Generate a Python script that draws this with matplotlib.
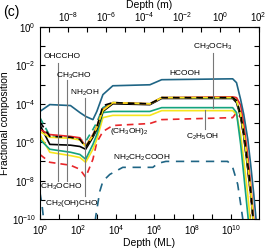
import matplotlib
matplotlib.use("Agg")
import matplotlib.pyplot as plt
import numpy as np

plt.rcParams['font.family'] = ['Liberation Sans', 'DejaVu Sans']
plt.rcParams['mathtext.fontset'] = 'custom'
plt.rcParams['mathtext.rm'] = 'Liberation Sans'
plt.rcParams['mathtext.it'] = 'Liberation Sans:italic'

# depth grid (monolayers) shared by the main species
depth_ml = [1, 3.3, 40, 124, 250, 600, 960, 2000, 6600, 5.8e5, 2.4e6,
            1.26e10, 2.0e10, 3.3e10, 4.8e10, 7.8e10, 1.1e11, 1.6e11, 2.3e11, 3.0e11]

hcooh = [4.0e-5, 9.1e-5, 8.1e-5, 3.5e-5, 2.2e-5, 1.5e-5, 4.0e-5, 3.0e-4, 8.7e-4, 9.8e-4, 1.8e-3,
         2.0e-3, 1.26e-3, 1.65e-4, 2.8e-5, 1.4e-6, 7.1e-8, 2.0e-9, 3.9e-11, 2.8e-12]
ch3och3 = [1.15e-5, 2.0e-6, 1.8e-6, 1.4e-6, 5.5e-7, 2.2e-6, 6.0e-6, 8.0e-5, 1.15e-4, 1.0e-4, 2.1e-4,
           2.1e-4, 1.5e-4, 2.8e-5, 3.2e-6, 7.1e-8, 3.5e-9, 5.0e-11, 8e-13, 6e-14]
red_solid = [4.6e-6, 2.5e-6, 2.0e-6, 1.7e-6, 6.0e-7, 2.5e-6, 6.6e-6, 5.0e-5, 1.15e-4, 1.0e-4, 2.1e-4,
             2.3e-4, 2.1e-4, 8.5e-5, 9.4e-6, 1.8e-7, 7.0e-9, 1.0e-10, 1.6e-12, 1e-13]
black_solid = [8.0e-6, 7.7e-7, 7.0e-7, 6.0e-7, 4.3e-7, 1.8e-6, 4.6e-6, 4.0e-5, 1.0e-4, 9.0e-5, 1.9e-4,
               1.9e-4, 1.15e-4, 2.0e-5, 2.0e-6, 3.9e-8, 2.0e-9, 4.0e-11, 7e-13, 5e-14]
yellow_dashed = [3.6e-6, 1.8e-6, 1.6e-6, 1.3e-6, 6.0e-7, 2.2e-6, 6.0e-6, 4.5e-5, 1.15e-4, 1.0e-4, 2.1e-4,
                 2.1e-4, 1.5e-4, 2.8e-5, 3.2e-6, 7.1e-8, 3.5e-9, 5.0e-11, 8e-13, 6e-14]
green_dashed = [1.9e-5, 2.2e-6, 1.8e-6, 1.4e-6, 1.1e-6, 4.6e-6, 1.07e-5, 6.3e-5, 1.15e-4, 1.0e-4, 2.1e-4,
                2.1e-4, 1.5e-4, 2.5e-5, 2.8e-6, 6.0e-8, 3.0e-9, 4.5e-11, 7e-13, 5e-14]
green_solid = [1.4e-6, 4.3e-7, 3.0e-7, 2.3e-7, 1.3e-7, 7.7e-7, 2.5e-6, 3.5e-5, 4.0e-5, 4.0e-5, 6.3e-5,
               6.3e-5, 3.5e-5, 7.7e-7, 2.0e-8, 1.7e-10, 4e-12, 1e-13, 1e-14, 1e-15]
c2h5oh = [2.5e-6, 3.0e-7, 2.0e-7, 1.6e-7, 9.0e-8, 4.3e-7, 1.4e-6, 1.9e-5, 2.5e-5, 2.5e-5, 4.4e-5,
          4.4e-5, 2.8e-5, 2.5e-6, 1.2e-7, 1.8e-9, 5.0e-11, 8e-13, 2e-14, 1e-15]
ch3oh2 = [2.3e-7, 9.0e-8, 6.3e-8, 3.9e-8, 1.5e-8, 1.3e-7, 9.8e-7, 3.6e-6, 7.4e-6, 9.4e-6, 1.5e-5,
          1.9e-5, 3.5e-5, 1.9e-5, 2.0e-6, 3.9e-8, 1.4e-9, 3.0e-11, 5e-13, 4e-14]

# glycine has its own depth points
gly_ml = [1, 1.3, 1.6, 3, 500, 850, 1380, 2000, 4600, 2.2e4, 8.3e5, 1.5e6, 4.0e6,
          6.9e9, 1.26e10, 2.3e10, 3.3e10, 4.4e10, 5.5e10]
gly = [2.5e-9, 5.0e-10, 8.0e-11, 1e-12, 1e-12, 1.45e-10, 2.8e-9, 9.3e-9, 2.1e-8, 4.9e-8, 4.9e-8,
       7.9e-8, 1.0e-7, 1.0e-7, 4.9e-8, 6.5e-9, 6.0e-10, 8.0e-11, 3.0e-12]

ml_m = 3.5e-10  # thickness of one monolayer in metres

teal = '#1f6585'
green = '#14a37f'
red = '#e8262a'
yellow = '#f7e51c'

fig = plt.figure(figsize=(2.66, 2.5), dpi=100)
ax = fig.add_axes([0.150, 0.124, 0.822, 0.768])

lw = 1.2
ax.plot(depth_ml, ch3oh2, color=red, lw=lw, dashes=(4, 3))
ax.plot(depth_ml, c2h5oh, color=yellow, lw=lw)
ax.plot(depth_ml, green_solid, color=green, lw=lw)
ax.plot(depth_ml, black_solid, color='black', lw=lw)
ax.plot(depth_ml, green_dashed, color=green, lw=lw, dashes=(4, 3))
ax.plot(depth_ml, red_solid, color=red, lw=lw)
ax.plot(depth_ml, yellow_dashed, color=yellow, lw=lw)
ax.plot(depth_ml, ch3och3, color='black', lw=lw, dashes=(4, 3))
ax.plot(depth_ml, hcooh, color=teal, lw=lw)
ax.plot(gly_ml, gly, color=teal, lw=lw, dashes=(5, 4))

ax.set_xscale('log')
ax.set_yscale('log')
ax.set_xlim(1, 100 / ml_m)
ax.set_ylim(1e-10, 1)

xt = [10.0 ** k for k in range(0, 12)]
ax.set_xticks(xt)
ax.set_xticklabels(['$10^{%d}$' % k if k % 2 == 0 else '' for k in range(0, 12)])
yt = [10.0 ** k for k in range(-10, 1)]
ax.set_yticks(yt)
ax.set_yticklabels(['$10^{%d}$' % k if k % 2 == 0 else '' for k in range(-10, 1)])
ax.minorticks_off()
ax.tick_params(which='both', direction='in', length=3.5, width=0.8,
               labelsize=7, right=True, top=False, pad=3)

sec = ax.secondary_xaxis('top', functions=(lambda x: x * ml_m, lambda x: x / ml_m))
mt = [10.0 ** k for k in range(-9, 3)]
sec.set_xticks(mt)
sec.set_xticklabels(['$10^{%d}$' % k if k % 2 == 0 else '' for k in range(-9, 3)])
sec.minorticks_off()
sec.tick_params(direction='in', length=3.5, width=0.8, labelsize=7, pad=2)
sec.set_xlabel('Depth (m)', fontsize=7.5, labelpad=2)

ax.set_xlabel('Depth (ML)', fontsize=7.5, labelpad=1)
ax.set_ylabel('Fractional composition', fontsize=7.5, labelpad=1)
for s in ax.spines.values():
    s.set_linewidth(0.8)

fig.text(0.01, 0.935, '(c)', fontsize=10)

# pointer lines
gray = '#777777'
ax.plot([8.8, 8.8], [1.36e-2, 9.3e-9], color=gray, lw=0.8)
ax.plot([26, 26], [1.8e-3, 9.3e-9], color=gray, lw=0.8)
ax.plot([240, 240], [2.1e-4, 1.55e-9], color=gray, lw=0.8)
ax.plot([1.15e9, 1.15e9], [4.5e-2, 6.3e-5], color=gray, lw=0.8)
ax.plot([4.4e8, 4.4e8], [4.5e-5, 4.6e-6], color=gray, lw=0.8)

fs = 6
kw = dict(fontsize=fs, ha='center', va='center')
ax.text(14, 2.8e-2, 'OHCCHO', **kw)
ax.text(60, 2.9e-3, 'CH$_3$CHO', **kw)
ax.text(230, 3.8e-4, 'NH$_2$OH', **kw)
ax.text(13, 4.6e-9, 'CH$_3$OCHO', **kw)
ax.text(48, 6.8e-10, 'CH$_2$(OH)CHO', **kw)
ax.text(3.9e7, 3.7e-3, 'HCOOH', **kw)
ax.text(1.15e9, 9.2e-2, 'CH$_3$OCH$_3$', **kw)
ax.text(3.4e8, 2.0e-6, 'C$_2$H$_5$OH', **kw)
ax.text(5.1e4, 3.6e-6, '(CH$_3$OH)$_2$', **kw)
ax.text(2.2e5, 1.6e-7, 'NH$_2$CH$_2$COOH', **kw)

fig.savefig('out.png', dpi=100)
